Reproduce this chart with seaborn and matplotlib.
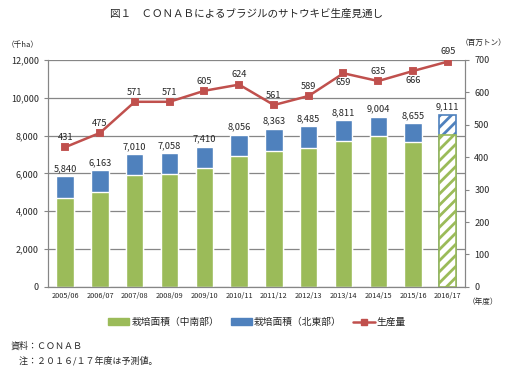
import matplotlib
matplotlib.use("Agg")
import matplotlib.pyplot as plt
import seaborn as sns
from matplotlib.patches import Patch
from matplotlib.lines import Line2D
from matplotlib.ticker import FuncFormatter

# データ
years = ["2005/06", "2006/07", "2007/08", "2008/09", "2009/10", "2010/11",
         "2011/12", "2012/13", "2013/14", "2014/15", "2015/16", "2016/17"]
area_total = [5840, 6163, 7010, 7058, 7410, 8056, 8363, 8485, 8811, 9004, 8655, 9111]
area_south = [4700, 5020, 5910, 5980, 6280, 6930, 7180, 7330, 7700, 7960, 7650, 8050]
production = [431, 475, 571, 571, 605, 624, 561, 589, 659, 635, 666, 695]
label_below = ["2013/14", "2015/16"]

GREEN = "#9BBB59"
BLUE = "#4F81BD"
RED = "#C0504D"
GRID = "#868686"

sns.set_style("white")
plt.rcParams["font.family"] = ["Noto Sans CJK JP", "DejaVu Sans"]
plt.rcParams["hatch.linewidth"] = 2.0

fig = plt.figure(figsize=(5.14, 3.82), dpi=100)
ax = fig.add_axes([0.093, 0.249, 0.812, 0.594])

# 積み上げ棒: 合計(北東部)を先に描き、その上に中南部
sns.barplot(x=years, y=area_total, color=BLUE, width=0.5, saturation=1, ax=ax)
sns.barplot(x=years, y=area_south, color=GREEN, width=0.5, saturation=1, ax=ax)

# 2016/17 は予測値 -> 斜線
n = len(years)
for p in ax.patches:
    if abs(p.get_x() + p.get_width() / 2 - (n - 1)) < 0.01:
        c = p.get_facecolor()
        p.set_facecolor("white")
        p.set_edgecolor(c)
        p.set_hatch("///")
        p.set_linewidth(1.2)

for i, v in enumerate(area_total):
    ax.text(i, v + 180, f"{v:,}", ha="center", va="bottom", fontsize=6.7)

ax.set_ylim(0, 12000)
ax.set_xlim(-0.5, n - 0.5)
ax.set_yticks(range(0, 12001, 2000))
ax.yaxis.set_major_formatter(FuncFormatter(lambda v, p: f"{int(v):,}"))
ax.grid(axis="y", color=GRID, lw=0.9)
ax.set_axisbelow(True)
ax.tick_params(axis="y", labelsize=6.5, length=3, color=GRID, left=True)
ax.tick_params(axis="x", labelsize=5.3, length=0, pad=4)
ax.set_xlabel("")
for s in ax.spines.values():
    s.set_color(GRID)
ax.spines["top"].set_visible(False)

# 生産量(右軸)
ax2 = ax.twinx()
sns.pointplot(x=years, y=production, color=RED, markers="s", markersize=5,
              linewidth=1.8, ax=ax2)
ax2.set_ylim(0, 700)
ax2.set_yticks(range(0, 701, 100))
ax2.tick_params(axis="y", labelsize=6.5, length=3, color=GRID, right=True)
ax2.set_xlim(-0.5, n - 0.5)
for s in ax2.spines.values():
    s.set_color(GRID)
ax2.spines["top"].set_visible(False)
for i, (yr, v) in enumerate(zip(years, production)):
    if yr in label_below:
        ax2.text(i, v - 16, str(v), ha="center", va="top", fontsize=6.7)
    else:
        ax2.text(i, v + 16, str(v), ha="center", va="bottom", fontsize=6.7)

fig.text(0.48, 0.965, "図１　ＣＯＮＡＢによるブラジルのサトウキビ生産見通し",
         ha="center", va="center", fontsize=7.6)
fig.text(0.045, 0.882, "（千ha）", ha="center", va="center", fontsize=5.5)
fig.text(0.94, 0.888, "（百万トン）", ha="center", va="center", fontsize=5.5)
fig.text(0.94, 0.21, "（年度）", ha="center", va="center", fontsize=5.5)

handles = [Patch(color=GREEN), Patch(color=BLUE),
           Line2D([], [], color=RED, marker="s", markersize=5, lw=1.8)]
fig.legend(handles, ["栽培面積（中南部）", "栽培面積（北東部）", "生産量"],
           loc="center", bbox_to_anchor=(0.5, 0.157), ncol=3, frameon=False,
           fontsize=7, handlelength=2.2, handletextpad=0.2, columnspacing=1.2)

fig.text(0.02, 0.094, "資料：ＣＯＮＡＢ", ha="left", va="center", fontsize=6.5)
fig.text(0.02, 0.055, "　注：２０１６/１７年度は予測値。", ha="left", va="center", fontsize=6.5)

fig.savefig("out.png", dpi=100)
